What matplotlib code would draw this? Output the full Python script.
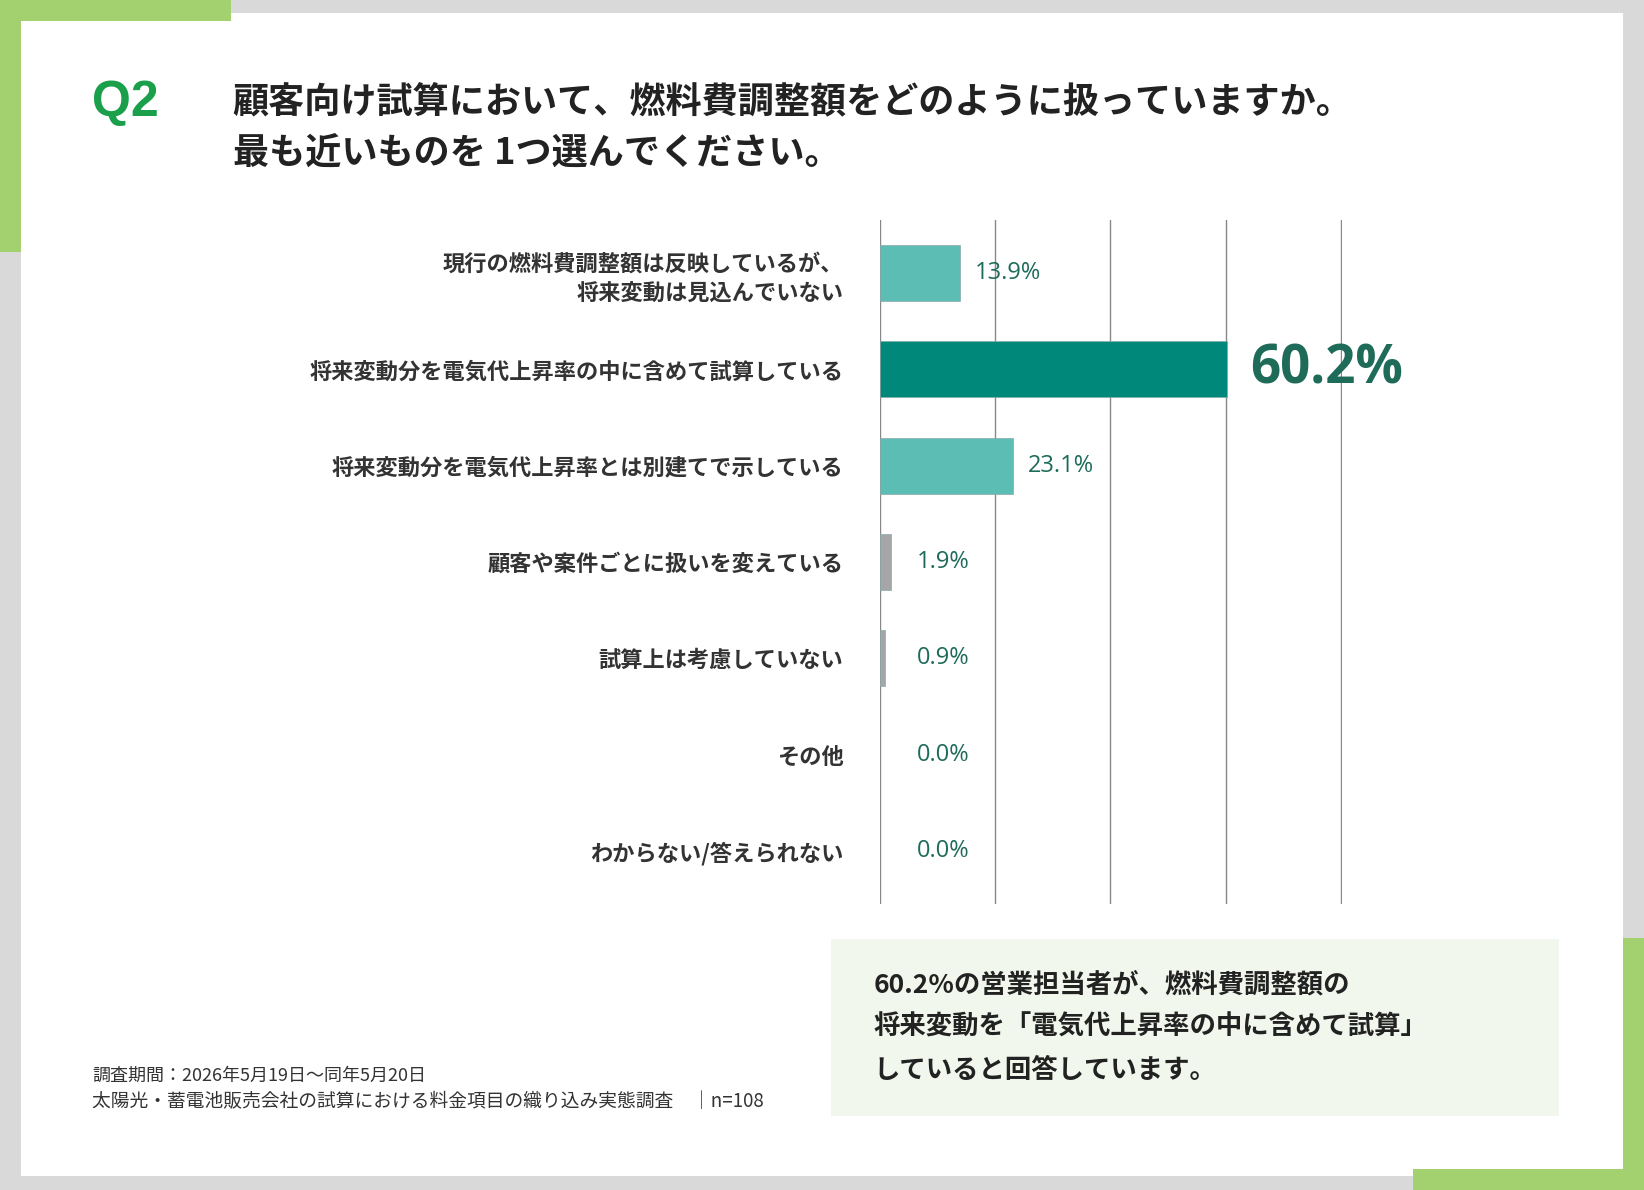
import matplotlib
matplotlib.use("Agg")
import matplotlib.pyplot as plt
from matplotlib.patches import Rectangle

plt.rcParams['font.family'] = ['Noto Sans CJK JP', 'DejaVu Sans']

categories = ["現行の燃料費調整額は反映しているが、\n将来変動は見込んでいない",
              "将来変動分を電気代上昇率の中に含めて試算している",
              "将来変動分を電気代上昇率とは別建てで示している",
              "顧客や案件ごとに扱いを変えている",
              "試算上は考慮していない",
              "その他",
              "わからない/答えられない"]
values = [13.9, 60.2, 23.1, 1.9, 0.9, 0.0, 0.0]
bar_colors = ["#5BBDB3", "#00897B", "#5BBDB3", "#A6A6A6", "#A6A6A6", "#A6A6A6", "#A6A6A6"]

W, H = 1568, 1135
fig = plt.figure(figsize=(16.44, 11.9), dpi=100)

def R(x, y, w, h, c, z=0):
    fig.patches.append(Rectangle((x / W, 1 - (y + h) / H), w / W, h / H,
                                 transform=fig.transFigure, color=c, zorder=z, lw=0))

R(0, 0, W, H, "#D9D9D9")
R(20, 12, 1528, 1110, "white", 1)
R(0, 0, 220, 20, "#A3D16F", 2)
R(0, 0, 20, 240, "#A3D16F", 2)
R(1348, 1115, 220, 20, "#A3D16F", 2)
R(1548, 895, 20, 240, "#A3D16F", 2)
R(793, 896, 694, 168, "#F1F7EC", 2)

def T(x, y, s, **kw):
    fig.text(x / W, 1 - y / H, s, zorder=5, **kw)

T(88, 98, "Q2", fontsize=36, fontweight="bold", color="#1AA04A", va="center", family="Liberation Sans")
T(222, 98, "顧客向け試算において、燃料費調整額をどのように扱っていますか。", fontsize=26, fontweight="bold", color="#222222", va="center")
T(222, 146, "最も近いものを 1つ選んでください。", fontsize=26, fontweight="bold", color="#222222", va="center")
T(833, 980, "60.2%の営業担当者が、燃料費調整額の\n将来変動を「電気代上昇率の中に含めて試算」\nしていると回答しています。",
  fontsize=19, fontweight="bold", color="#222222", va="center", linespacing=1.75)
T(88, 1026, "調査期間：2026年5月19日～同年5月20日", fontsize=13, color="#333333", va="center")
T(88, 1051, "太陽光・蓄電池販売会社の試算における料金項目の織り込み実態調査　│n=108", fontsize=13.5, color="#333333", va="center")

ax = fig.add_axes([839 / W, 1 - 862 / H, (1280 - 839) / W, (862 - 210) / H], zorder=4)
ax.patch.set_alpha(0)
y = list(range(len(categories)))
ax.barh(y, values, height=0.58, color=bar_colors, edgecolor=["#8AA" if v > 0 else "none" for v in values], linewidth=0.5, zorder=3)
ax.set_xlim(0, 80.2)
ax.set_ylim(len(categories) - 0.5 + 0.05, -0.5 - 0.05)
ax.set_xticks([0, 20, 40, 60, 80])
ax.xaxis.grid(True, color="#888888", lw=1)
ax.set_xticklabels([])
ax.tick_params(length=0)
for s in ax.spines.values():
    s.set_visible(False)
ax.set_yticks(y)
ax.set_yticklabels(categories, fontsize=16, fontweight="bold", color="#333333", ha="right", linespacing=1.4)
ax.tick_params(axis="y", pad=26)
for i, v in enumerate(values):
    if i == 1:
        ax.text(v + 4, i, f"{v:.1f}%", fontsize=38, fontweight="bold", color="#1E6B5A", va="center", family="Open Sans")
    else:
        ax.text(max(v + 2.6, 6.5), i, f"{v:.1f}%", fontsize=17, color="#1E6B5A", va="center", family="Open Sans")

fig.savefig("out.png", dpi=100)
